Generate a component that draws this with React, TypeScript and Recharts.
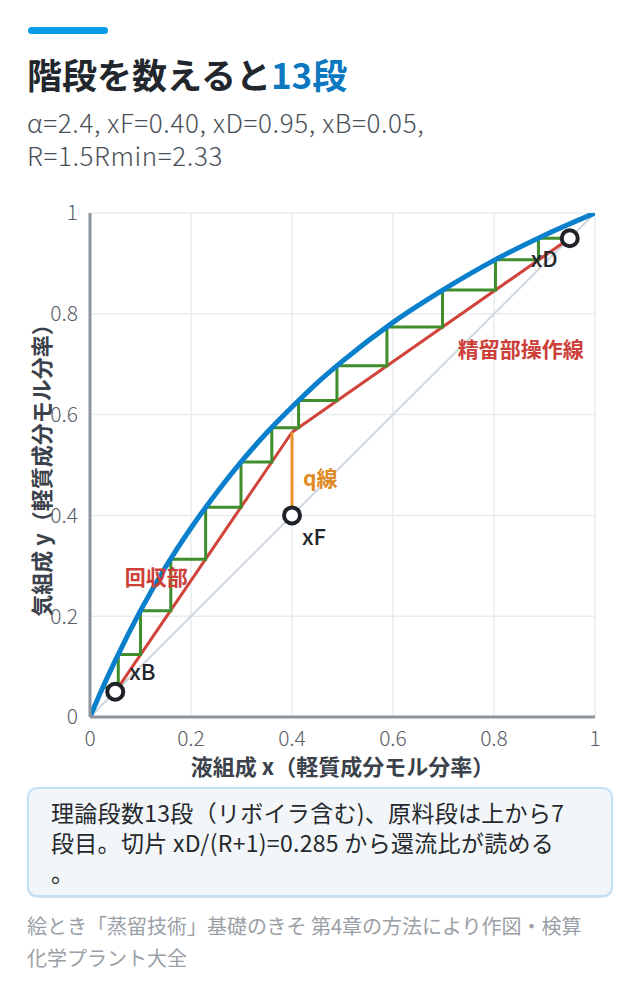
import React from "react";
import {
  ComposedChart,
  Line,
  Scatter,
  XAxis,
  YAxis,
  CartesianGrid,
  ReferenceDot,
} from "recharts";

// ---- data ----
const axisTicks = [0, 0.2, 0.4, 0.6, 0.8, 1];

const equilibrium = [
  { x: 0, y: 0 },
  { x: 0.025, y: 0.058 },
  { x: 0.05, y: 0.112 },
  { x: 0.1, y: 0.211 },
  { x: 0.15, y: 0.298 },
  { x: 0.2, y: 0.375 },
  { x: 0.25, y: 0.444 },
  { x: 0.3, y: 0.507 },
  { x: 0.35, y: 0.564 },
  { x: 0.4, y: 0.615 },
  { x: 0.45, y: 0.663 },
  { x: 0.5, y: 0.706 },
  { x: 0.6, y: 0.783 },
  { x: 0.7, y: 0.848 },
  { x: 0.8, y: 0.906 },
  { x: 0.9, y: 0.956 },
  { x: 1, y: 1 },
];

const diagonal = [
  { x: 0, y: 0 },
  { x: 1, y: 1 },
];

const rectifyingLine = [
  { x: 0.4, y: 0.565 },
  { x: 0.95, y: 0.95 },
];

const strippingLine = [
  { x: 0.05, y: 0.05 },
  { x: 0.4, y: 0.565 },
];

const qLine = [
  { x: 0.4, y: 0.4 },
  { x: 0.4, y: 0.565 },
];

const steps = [
  { x: 0.95, y: 0.95 },
  { x: 0.888, y: 0.95 },
  { x: 0.888, y: 0.907 },
  { x: 0.803, y: 0.907 },
  { x: 0.803, y: 0.847 },
  { x: 0.698, y: 0.847 },
  { x: 0.698, y: 0.774 },
  { x: 0.588, y: 0.774 },
  { x: 0.588, y: 0.697 },
  { x: 0.489, y: 0.697 },
  { x: 0.489, y: 0.628 },
  { x: 0.413, y: 0.628 },
  { x: 0.413, y: 0.574 },
  { x: 0.36, y: 0.574 },
  { x: 0.36, y: 0.506 },
  { x: 0.299, y: 0.506 },
  { x: 0.299, y: 0.416 },
  { x: 0.229, y: 0.416 },
  { x: 0.229, y: 0.313 },
  { x: 0.16, y: 0.313 },
  { x: 0.16, y: 0.211 },
  { x: 0.1, y: 0.211 },
  { x: 0.1, y: 0.124 },
  { x: 0.056, y: 0.124 },
  { x: 0.056, y: 0.059 },
  { x: 0.025, y: 0.059 },
];

const keyPoints = [
  { x: 0.05, y: 0.05, name: "xB" },
  { x: 0.4, y: 0.4, name: "xF" },
  { x: 0.95, y: 0.95, name: "xD" },
];

const textLabels = [
  { x: 0.05, y: 0.05, text: "xB", color: "#23272c", dx: 14, dy: -22, anchor: "start", weight: 500, size: 22 },
  { x: 0.4, y: 0.4, text: "xF", color: "#23272c", dx: 10, dy: 20, anchor: "start", weight: 500, size: 22 },
  { x: 0.95, y: 0.95, text: "xD", color: "#23272c", dx: -39, dy: 19, anchor: "start", weight: 500, size: 22 },
  { x: 0.4, y: 0.48, text: "q線", color: "#e08a23", dx: 11, dy: 2, anchor: "start", weight: 700, size: 21 },
  { x: 0.853, y: 0.732, text: "精留部操作線", color: "#cc4039", dx: 0, dy: 0, anchor: "middle", weight: 700, size: 21 },
  { x: 0.131, y: 0.28, text: "回収部", color: "#cc4039", dx: 0, dy: 0, anchor: "middle", weight: 700, size: 21 },
];

const FONT = "'Noto Sans CJK JP', 'Noto Sans', sans-serif";

const makeText = (t: any) => (props: any) => {
  const { cx, cy } = props;
  return (
    <text
      x={cx + t.dx}
      y={cy + t.dy}
      fill={t.color}
      fontSize={t.size}
      fontWeight={t.weight}
      fontFamily={FONT}
      textAnchor={t.anchor}
      dominantBaseline="central"
    >
      {t.text}
    </text>
  );
};

const OpenCircle = (props: any) => {
  const { cx, cy } = props;
  return <circle cx={cx} cy={cy} r={8} fill="#ffffff" stroke="#1f2328" strokeWidth={4} />;
};

const YTitle = (props: any) => {
  const vb = props.viewBox || {};
  const cx = 40;
  const cy = (vb.y || 0) + (vb.height || 0) / 2;
  return (
    <text
      x={cx}
      y={cy}
      transform={`rotate(-90, ${cx}, ${cy})`}
      textAnchor="middle"
      dominantBaseline="central"
      fontSize={22}
      fontWeight={700}
      fill="#3b424b"
      fontFamily={FONT}
    >
      気組成 y（軽質成分モル分率）
    </text>
  );
};

const XTitle = (props: any) => {
  const vb = props.viewBox || {};
  const cx = (vb.x || 0) + (vb.width || 0) / 2;
  const cy = (vb.y || 0) + 48;
  return (
    <text
      x={cx}
      y={cy}
      textAnchor="middle"
      dominantBaseline="central"
      fontSize={22}
      fontWeight={700}
      fill="#3b424b"
      fontFamily={FONT}
    >
      液組成 x（軽質成分モル分率）
    </text>
  );
};

export default function App() {
  const tickStyle = { fontSize: 21, fill: "#5a6068", fontFamily: FONT, fontWeight: 300 };
  return (
    <div
      style={{
        position: "absolute",
        left: 0,
        top: 0,
        width: 640,
        height: 1008,
        background: "#ffffff",
        fontFamily: FONT,
      }}
    >
      <div
        style={{
          position: "absolute",
          left: 28,
          top: 27,
          width: 80,
          height: 7,
          borderRadius: 4,
          background: "#0a9be8",
        }}
      />
      <div
        style={{
          position: "absolute",
          left: 27,
          top: 52,
          fontSize: 35,
          fontWeight: 700,
          color: "#22272d",
          whiteSpace: "nowrap",
          lineHeight: "44px",
        }}
      >
        階段を数えると<span style={{ color: "#0b78bf" }}>13段</span>
      </div>
      <div
        style={{
          position: "absolute",
          left: 27,
          top: 105,
          fontSize: 26,
          fontWeight: 300,
          letterSpacing: 0.6,
          color: "#4a5058",
          lineHeight: "33px",
          whiteSpace: "nowrap",
        }}
      >
        <div>α=2.4, xF=0.40, xD=0.95, xB=0.05,</div>
        <div>R=1.5Rmin=2.33</div>
      </div>

      <div style={{ position: "absolute", left: 0, top: 190 }}>
        <ComposedChart
          width={640}
          height={600}
          margin={{ top: 23, right: 45, bottom: 13, left: 0 }}
        >
          <CartesianGrid stroke="#e8ecf0" strokeWidth={1.5} />
          <XAxis
            type="number"
            dataKey="x"
            domain={[0, 1]}
            ticks={axisTicks}
            allowDataOverflow
            tickFormatter={(v: number) => String(v)}
            tickLine={false}
            tickSize={6}
            tickMargin={8}
            axisLine={{ stroke: "#8d949c", strokeWidth: 3 }}
            tick={tickStyle}
            height={60}
            label={<XTitle />}
          />
          <YAxis
            type="number"
            dataKey="y"
            domain={[0, 1]}
            ticks={axisTicks}
            allowDataOverflow
            tickFormatter={(v: number) => String(v)}
            tickLine={false}
            tickSize={6}
            tickMargin={6}
            axisLine={{ stroke: "#8d949c", strokeWidth: 3 }}
            tick={tickStyle}
            width={90}
            label={<YTitle />}
          />
          {textLabels.map((t) => (
            <ReferenceDot
              key={t.text}
              x={t.x}
              y={t.y}
              r={0}
              ifOverflow="visible"
              shape={makeText(t)}
            />
          ))}
          <Line
            data={diagonal}
            dataKey="y"
            type="linear"
            stroke="#cfd6dd"
            strokeWidth={2}
            dot={false}
            activeDot={false}
            isAnimationActive={false}
          />
          <Line
            data={strippingLine}
            dataKey="y"
            type="linear"
            stroke="#d0433a"
            strokeWidth={3}
            dot={false}
            activeDot={false}
            isAnimationActive={false}
          />
          <Line
            data={rectifyingLine}
            dataKey="y"
            type="linear"
            stroke="#d0433a"
            strokeWidth={3}
            dot={false}
            activeDot={false}
            isAnimationActive={false}
          />
          <Line
            data={qLine}
            dataKey="y"
            type="linear"
            stroke="#e8922a"
            strokeWidth={3}
            dot={false}
            activeDot={false}
            isAnimationActive={false}
          />
          <Line
            data={steps}
            dataKey="y"
            type="linear"
            stroke="#3f8d2b"
            strokeWidth={3}
            dot={false}
            activeDot={false}
            isAnimationActive={false}
          />
          <Line
            data={equilibrium}
            dataKey="y"
            type="monotone"
            stroke="#0a80cc"
            strokeWidth={5}
            strokeLinecap="round"
            dot={false}
            activeDot={false}
            isAnimationActive={false}
          />
          <Scatter
            data={keyPoints}
            dataKey="y"
            shape={<OpenCircle />}
            isAnimationActive={false}
          />
        </ComposedChart>
      </div>

      <div
        style={{
          position: "absolute",
          left: 27,
          top: 787,
          width: 586,
          height: 110,
          boxSizing: "border-box",
          border: "2px solid #bfe1f6",
          borderRadius: 10,
          background: "#f3f6f9",
          padding: "8px 22px",
          fontSize: 23,
          letterSpacing: 0.3,
          lineHeight: "30px",
          color: "#25292e",
          whiteSpace: "nowrap",
          boxShadow: "0 1px 0 #d8dde2",
        }}
      >
        <div>理論段数13段（リボイラ含む)、原料段は上から7</div>
        <div>段目。切片 xD/(R+1)=0.285 から還流比が読める</div>
        <div>。</div>
      </div>

      <div
        style={{
          position: "absolute",
          left: 27,
          top: 910,
          fontSize: 20,
          lineHeight: "32px",
          color: "#9aa0a6",
          whiteSpace: "nowrap",
        }}
      >
        <div>絵とき「蒸留技術」基礎のきそ 第4章の方法により作図・検算</div>
        <div>化学プラント大全</div>
      </div>
    </div>
  );
}
